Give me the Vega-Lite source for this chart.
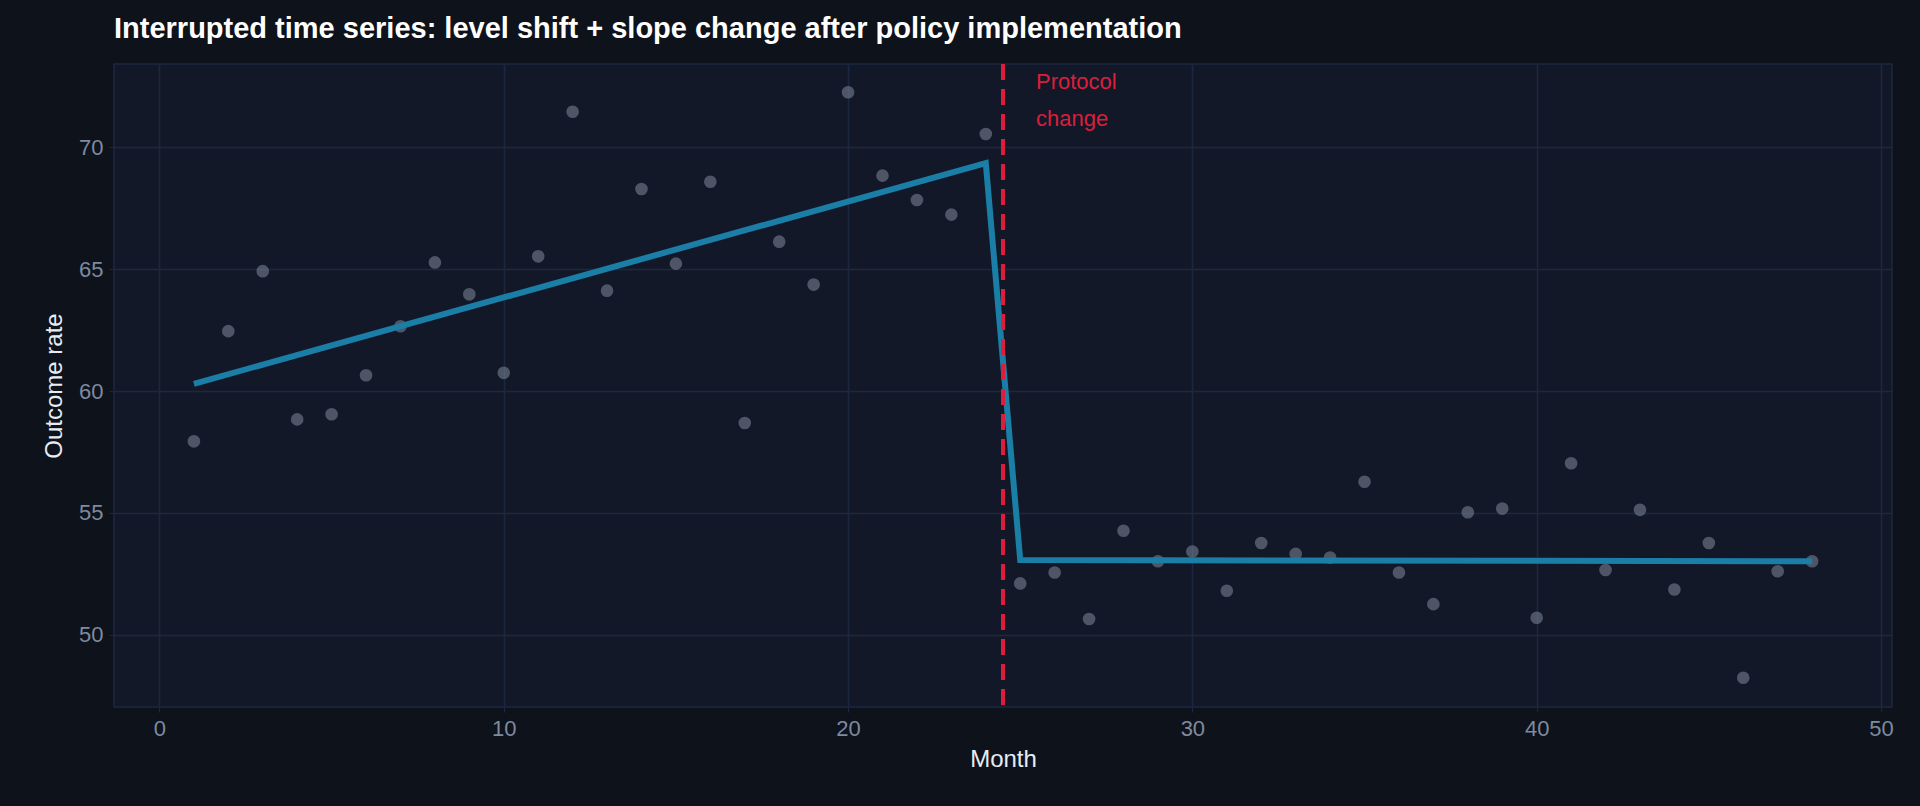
{
  "$schema": "https://vega.github.io/schema/vega-lite/v6.json",
  "autosize": {"type": "none"},
  "width": 1778,
  "height": 643,
  "padding": {"left": 114, "top": 64, "right": 28, "bottom": 99},
  "background": "#0e121a",
  "title": {
    "text": "Interrupted time series: level shift + slope change after policy implementation",
    "anchor": "start",
    "frame": "group",
    "color": "#ffffff",
    "fontSize": 29,
    "fontWeight": "bold",
    "font": "Liberation Sans",
    "offset": 18
  },
  "datasets": {
    "obs": [
      {"month": 1, "rate": 57.94}, {"month": 2, "rate": 62.46}, {"month": 3, "rate": 64.92},
      {"month": 4, "rate": 58.84}, {"month": 5, "rate": 59.05}, {"month": 6, "rate": 60.65},
      {"month": 7, "rate": 62.66}, {"month": 8, "rate": 65.28}, {"month": 9, "rate": 63.97},
      {"month": 10, "rate": 60.75}, {"month": 11, "rate": 65.53}, {"month": 12, "rate": 71.46},
      {"month": 13, "rate": 64.12}, {"month": 14, "rate": 68.29}, {"month": 15, "rate": 65.23},
      {"month": 16, "rate": 68.59}, {"month": 17, "rate": 58.69}, {"month": 18, "rate": 66.13},
      {"month": 19, "rate": 64.37}, {"month": 20, "rate": 72.26}, {"month": 21, "rate": 68.84},
      {"month": 22, "rate": 67.84}, {"month": 23, "rate": 67.24}, {"month": 24, "rate": 70.55},
      {"month": 25, "rate": 52.11}, {"month": 26, "rate": 52.56}, {"month": 27, "rate": 50.65},
      {"month": 28, "rate": 54.27}, {"month": 29, "rate": 53.02}, {"month": 30, "rate": 53.42},
      {"month": 31, "rate": 51.81}, {"month": 32, "rate": 53.77}, {"month": 33, "rate": 53.32},
      {"month": 34, "rate": 53.17}, {"month": 35, "rate": 56.28}, {"month": 36, "rate": 52.56},
      {"month": 37, "rate": 51.26}, {"month": 38, "rate": 55.03}, {"month": 39, "rate": 55.18},
      {"month": 40, "rate": 50.70}, {"month": 41, "rate": 57.04}, {"month": 42, "rate": 52.66},
      {"month": 43, "rate": 55.13}, {"month": 44, "rate": 51.86}, {"month": 45, "rate": 53.77},
      {"month": 46, "rate": 48.24}, {"month": 47, "rate": 52.61}, {"month": 48, "rate": 53.02}
    ],
    "fit": [
      {"month": 1, "rate": 60.3}, {"month": 24, "rate": 69.35},
      {"month": 25, "rate": 53.07}, {"month": 48, "rate": 53.02}
    ],
    "policy": [{"month": 24.5, "label": ["Protocol", "change"]}]
  },
  "encoding": {
    "x": {
      "field": "month", "type": "quantitative", "title": "Month",
      "scale": {"domain": [-1.32, 50.32], "nice": false, "zero": false},
      "axis": {"values": [0, 10, 20, 30, 40, 50]}
    },
    "y": {
      "field": "rate", "type": "quantitative", "title": "Outcome rate",
      "scale": {"domain": [47.04, 73.42], "nice": false, "zero": false},
      "axis": {"values": [50, 55, 60, 65, 70]}
    }
  },
  "layer": [
    {
      "data": {"name": "obs"},
      "mark": {"type": "circle", "size": 160, "color": "#7d889c", "opacity": 0.55}
    },
    {
      "data": {"name": "fit"},
      "mark": {"type": "line", "color": "#1a7ea6", "strokeWidth": 6}
    },
    {
      "data": {"name": "policy"},
      "mark": {"type": "rule", "color": "#dc1e3c", "strokeWidth": 4, "strokeDash": [16, 9]},
      "encoding": {"x": {"field": "month", "type": "quantitative"}, "y": null}
    },
    {
      "data": {"name": "policy"},
      "mark": {"type": "text", "color": "#dc1e3c", "fontSize": 22, "font": "Liberation Sans", "align": "left", "baseline": "top", "dx": 33, "y": 8, "lineHeight": 37},
      "encoding": {"x": {"field": "month", "type": "quantitative"}, "y": null, "text": {"field": "label"}}
    }
  ],
  "config": {
    "font": "Liberation Sans",
    "view": {"fill": "#121827", "stroke": "#1c2842", "strokeWidth": 1.5},
    "axis": {
      "domain": false,
      "gridColor": "#1c2842",
      "gridWidth": 1.5,
      "tickColor": "#1c2842",
      "tickSize": 5,
      "labelColor": "#7d8aa0",
      "labelFontSize": 22,
      "labelPadding": 6,
      "titleColor": "#e8ecf2",
      "titleFontSize": 24,
      "titleFontWeight": "normal"
    },
    "axisX": {"titlePadding": 8},
    "axisY": {"titlePadding": 12}
  }
}
